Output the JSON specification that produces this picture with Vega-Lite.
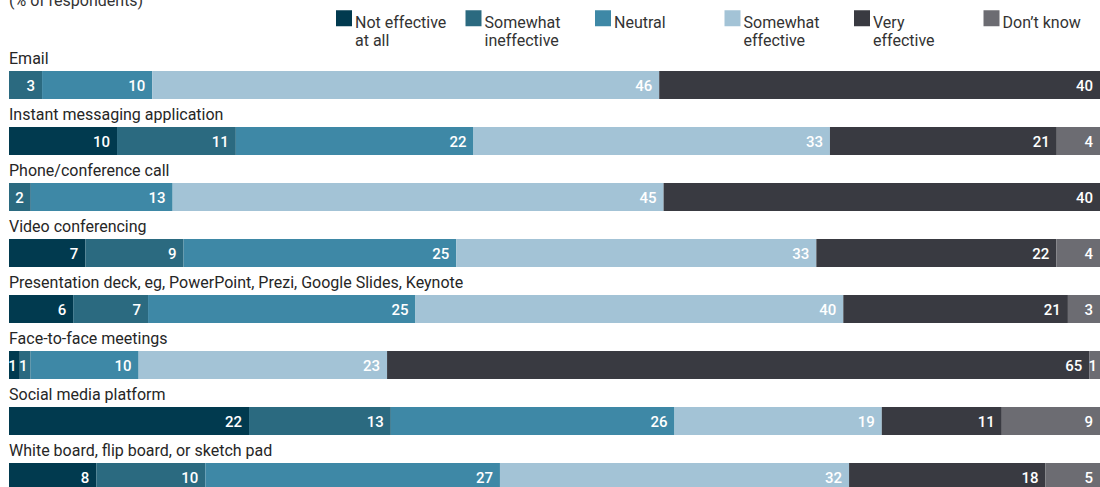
{
  "$schema": "https://vega.github.io/schema/vega-lite/v6.json",
  "width": 1091,
  "height": 430,
  "autosize": "none",
  "padding": {"left": 9, "top": 57, "right": 0, "bottom": 0},
  "title": {"text": "(% of respondents)", "anchor": "start", "frame": "group", "orient": "top", "offset": 0, "dy": 12, "baseline": "alphabetic", "font": "Roboto", "fontSize": 16, "fontWeight": "normal", "color": "#333333"},
  "config": {"view": {"stroke": null}, "font": "Roboto"},
  "data": {"values": [
    {"item": "Email", "r": "Somewhat ineffective", "v": 3},
    {"item": "Email", "r": "Neutral", "v": 10},
    {"item": "Email", "r": "Somewhat effective", "v": 46},
    {"item": "Email", "r": "Very effective", "v": 40},
    {"item": "Instant messaging application", "r": "Not effective at all", "v": 10},
    {"item": "Instant messaging application", "r": "Somewhat ineffective", "v": 11},
    {"item": "Instant messaging application", "r": "Neutral", "v": 22},
    {"item": "Instant messaging application", "r": "Somewhat effective", "v": 33},
    {"item": "Instant messaging application", "r": "Very effective", "v": 21},
    {"item": "Instant messaging application", "r": "Don’t know", "v": 4},
    {"item": "Phone/conference call", "r": "Somewhat ineffective", "v": 2},
    {"item": "Phone/conference call", "r": "Neutral", "v": 13},
    {"item": "Phone/conference call", "r": "Somewhat effective", "v": 45},
    {"item": "Phone/conference call", "r": "Very effective", "v": 40},
    {"item": "Video conferencing", "r": "Not effective at all", "v": 7},
    {"item": "Video conferencing", "r": "Somewhat ineffective", "v": 9},
    {"item": "Video conferencing", "r": "Neutral", "v": 25},
    {"item": "Video conferencing", "r": "Somewhat effective", "v": 33},
    {"item": "Video conferencing", "r": "Very effective", "v": 22},
    {"item": "Video conferencing", "r": "Don’t know", "v": 4},
    {"item": "Presentation deck, eg, PowerPoint, Prezi, Google Slides, Keynote", "r": "Not effective at all", "v": 6},
    {"item": "Presentation deck, eg, PowerPoint, Prezi, Google Slides, Keynote", "r": "Somewhat ineffective", "v": 7},
    {"item": "Presentation deck, eg, PowerPoint, Prezi, Google Slides, Keynote", "r": "Neutral", "v": 25},
    {"item": "Presentation deck, eg, PowerPoint, Prezi, Google Slides, Keynote", "r": "Somewhat effective", "v": 40},
    {"item": "Presentation deck, eg, PowerPoint, Prezi, Google Slides, Keynote", "r": "Very effective", "v": 21},
    {"item": "Presentation deck, eg, PowerPoint, Prezi, Google Slides, Keynote", "r": "Don’t know", "v": 3},
    {"item": "Face-to-face meetings", "r": "Not effective at all", "v": 1},
    {"item": "Face-to-face meetings", "r": "Somewhat ineffective", "v": 1},
    {"item": "Face-to-face meetings", "r": "Neutral", "v": 10},
    {"item": "Face-to-face meetings", "r": "Somewhat effective", "v": 23},
    {"item": "Face-to-face meetings", "r": "Very effective", "v": 65},
    {"item": "Face-to-face meetings", "r": "Don’t know", "v": 1},
    {"item": "Social media platform", "r": "Not effective at all", "v": 22},
    {"item": "Social media platform", "r": "Somewhat ineffective", "v": 13},
    {"item": "Social media platform", "r": "Neutral", "v": 26},
    {"item": "Social media platform", "r": "Somewhat effective", "v": 19},
    {"item": "Social media platform", "r": "Very effective", "v": 11},
    {"item": "Social media platform", "r": "Don’t know", "v": 9},
    {"item": "White board, flip board, or sketch pad", "r": "Not effective at all", "v": 8},
    {"item": "White board, flip board, or sketch pad", "r": "Somewhat ineffective", "v": 10},
    {"item": "White board, flip board, or sketch pad", "r": "Neutral", "v": 27},
    {"item": "White board, flip board, or sketch pad", "r": "Somewhat effective", "v": 32},
    {"item": "White board, flip board, or sketch pad", "r": "Very effective", "v": 18},
    {"item": "White board, flip board, or sketch pad", "r": "Don’t know", "v": 5}
  ]},
  "transform": [
    {"calculate": "indexof(['Not effective at all','Somewhat ineffective','Neutral','Somewhat effective','Very effective','Don’t know'], datum.r)", "as": "o"},
    {"stack": "v", "groupby": ["item"], "sort": [{"field": "o", "order": "ascending"}], "offset": "normalize", "as": ["x0", "x1"]}
  ],
  "encoding": {
    "y": {"field": "item", "type": "nominal", "sort": null, "axis": null,
          "scale": {"range": [0, 448], "paddingInner": 0, "paddingOuter": 0}}
  },
  "layer": [
    {
      "mark": {"type": "bar", "height": {"band": 0.5}},
      "encoding": {
        "x": {"field": "x0", "type": "quantitative", "axis": null, "scale": {"domain": [0, 1], "nice": false, "zero": false}},
        "x2": {"field": "x1"},
        "color": {"field": "r", "type": "nominal",
          "scale": {"domain": ["Not effective at all", "Somewhat ineffective", "Neutral", "Somewhat effective", "Very effective", "Don’t know"],
                    "range": ["#013a4f", "#2b6a80", "#3e88a6", "#a3c3d6", "#393a41", "#6c6c72"]},
          "legend": {"title": null, "orient": "none", "legendX": 327, "legendY": -47, "direction": "horizontal", "columns": 6,
            "gridAlign": "all", "columnPadding": 18.5, "symbolType": "square", "symbolSize": 256, "symbolStrokeWidth": 0, "symbolOpacity": 1,
            "labelFont": "Roboto", "labelFontSize": 16, "labelColor": "#333333", "labelBaseline": "top", "labelLineHeight": 19.5, "labelOffset": 3, "labelLimit": 200,
            "encode": {"labels": {"update": {"dy": {"value": -3.5}}}},
            "labelExpr": "datum.label === 'Not effective at all' ? ['Not effective', 'at all'] : datum.label === 'Somewhat ineffective' ? ['Somewhat', 'ineffective'] : datum.label === 'Somewhat effective' ? ['Somewhat', 'effective'] : datum.label === 'Very effective' ? ['Very', 'effective'] : [datum.label, '']"}
        }
      }
    },
    {
      "transform": [{"filter": "datum.v >= 2"}],
      "mark": {"type": "text", "align": "right", "baseline": "middle", "dx": -7, "dy": 1, "color": "white", "font": "Roboto", "fontSize": 15, "fontWeight": 500},
      "encoding": {
        "x": {"field": "x1", "type": "quantitative"},
        "text": {"field": "v", "type": "quantitative"}
      }
    },
    {
      "transform": [{"filter": "datum.v < 2"}],
      "mark": {"type": "text", "align": "right", "baseline": "middle", "dx": -3, "dy": 1, "color": "white", "font": "Roboto", "fontSize": 15, "fontWeight": 500},
      "encoding": {
        "x": {"field": "x1", "type": "quantitative"},
        "text": {"field": "v", "type": "quantitative"}
      }
    },
    {
      "transform": [{"aggregate": [], "groupby": ["item"]}],
      "mark": {"type": "text", "align": "left", "baseline": "alphabetic", "dy": 7, "color": "#262626", "font": "Roboto", "fontSize": 16},
      "encoding": {
        "x": {"datum": 0, "type": "quantitative"},
        "y": {"field": "item", "type": "nominal", "sort": null, "bandPosition": 0},
        "text": {"field": "item"}
      }
    }
  ]
}
